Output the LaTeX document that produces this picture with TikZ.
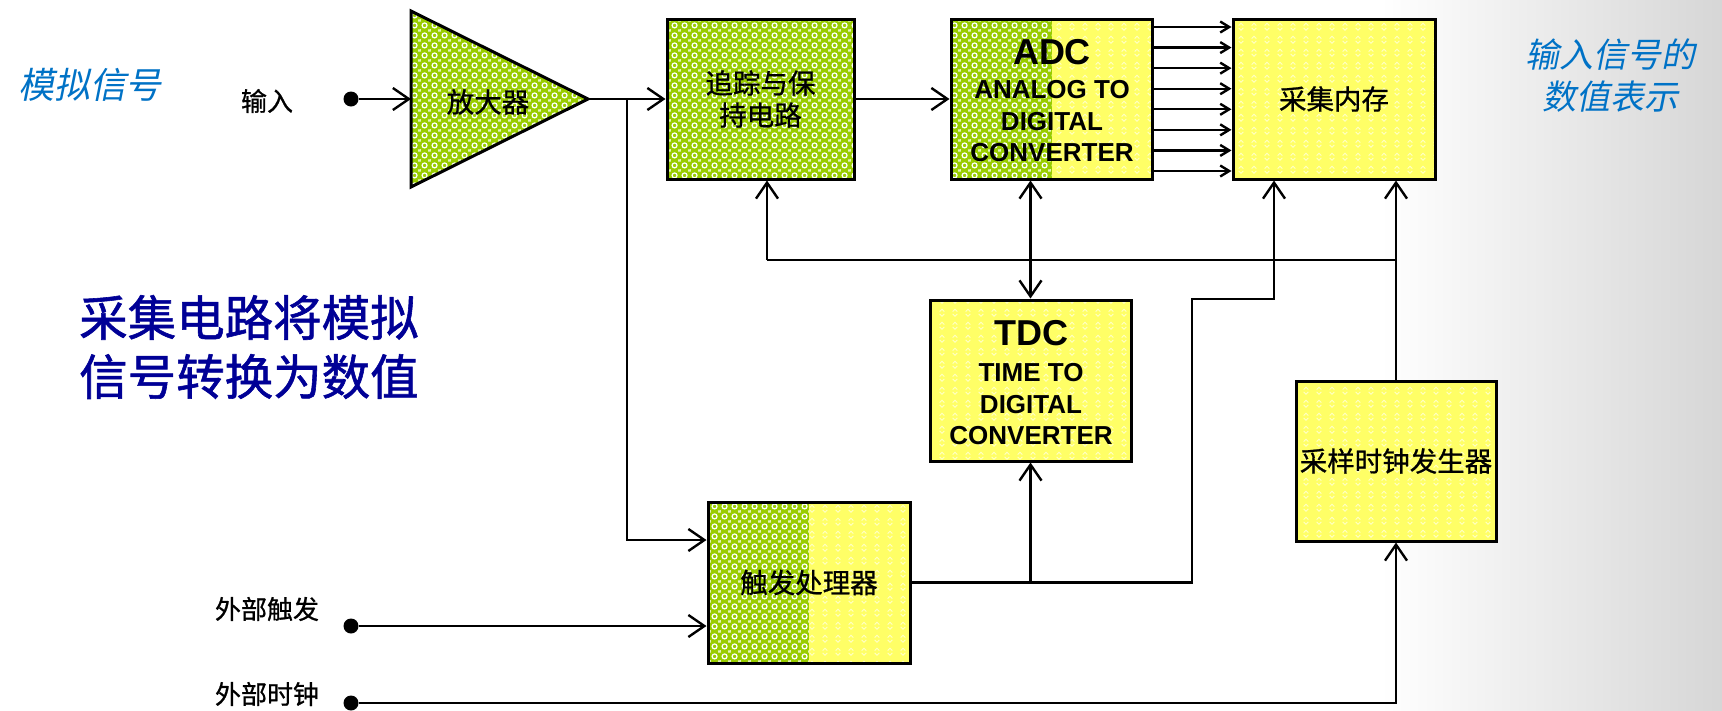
\documentclass[tikz,border=0pt]{standalone}
\usepackage{fontspec}
\setmainfont{Liberation Sans}
\newfontfamily\cjk{Noto Sans CJK SC}[FakeBold=0.8]
\newfontfamily\cjkheavy{Noto Sans CJK SC}[FakeBold=1.2]
\newfontfamily\cjkit{Noto Sans CJK SC}[FakeSlant=0.2]
\usetikzlibrary{arrows.meta, patterns.meta, calc}

\definecolor{grn}{RGB}{153,204,0}
\definecolor{yel}{RGB}{255,255,102}
\definecolor{ylt}{RGB}{255,255,200}
\definecolor{skyblue}{RGB}{0,114,198}
\definecolor{navy}{RGB}{0,0,150}

% white ring texture laid over the green fill
\tikzdeclarepattern{
  name=ringsW,
  type=colored,
  bounding box={(0pt,0pt) and (10pt,10pt)},
  tile size={(10pt,10pt)},
  code={
    \draw[white, line width=1.3pt] (5pt,5pt) circle[radius=2.7pt];
    \fill[white] (0pt,0pt) circle[radius=1.2pt];
    \fill[white] (10pt,0pt) circle[radius=1.2pt];
    \fill[white] (0pt,10pt) circle[radius=1.2pt];
    \fill[white] (10pt,10pt) circle[radius=1.2pt];
  }
}
% faint light marks laid over the yellow fill
\tikzdeclarepattern{
  name=marksY,
  type=colored,
  bounding box={(0pt,0pt) and (13pt,13pt)},
  tile size={(13pt,13pt)},
  code={
    \draw[ylt, line width=1pt] (4pt,6.5pt) -- (6.5pt,4pt) -- (9pt,6.5pt);
    \draw[ylt, line width=1pt] (4pt,9pt) -- (6.5pt,11.5pt) -- (9pt,9pt);
  }
}

\begin{document}
\begin{tikzpicture}[x=1pt, y=-1pt,
  wire/.style={line width=2.4pt},
  arr/.style={wire, -{Straight Barb[length=16pt,width=22pt]}},
  barr/.style={wire, {Straight Barb[length=16pt,width=22pt]}-{Straight Barb[length=16pt,width=22pt]}},
  sarr/.style={wire, -{Straight Barb[length=9pt,width=11pt]}},
  blk/.style={draw, line width=3pt, rectangle, inner sep=0pt, align=center},
  gblk/.style={blk, preaction={fill=grn}, pattern=ringsW},
  yblk/.style={blk, preaction={fill=yel}, pattern=marksY},
  hblk/.style={yblk, path picture={
      \fill[grn] (path picture bounding box.south west) rectangle (path picture bounding box.north);
      \fill[pattern=ringsW] (path picture bounding box.south west) rectangle (path picture bounding box.north);}},
  terminal/.style={circle, fill=black, inner sep=0pt, minimum size=15pt},
  cn/.style={font=\cjk\fontsize{27.5}{32}\selectfont, inner sep=0pt},
  lbl/.style={font=\cjk\fontsize{26}{31}\selectfont, inner sep=0pt},
  en/.style={font=\bfseries\fontsize{26}{31.5}\selectfont, align=center, inner sep=0pt},
  enbig/.style={font=\bfseries\fontsize{36}{40}\selectfont, inner sep=0pt},
]
\useasboundingbox (0,0) rectangle (1722,710);
\fill[white] (0,0) rectangle (1722,710);
\shade[left color=white, right color=black!16] (1380,0) rectangle (1722,710);

% side captions
\node[font=\cjkit\fontsize{36}{40}\selectfont, text=skyblue, inner sep=0pt] (capA) at (90,85) {模拟信号};
\node[font=\cjkit\fontsize{34}{42}\selectfont, text=skyblue, align=center, inner sep=0pt] (capB) at (1610,76) {输入信号的\\数值表示};
\node[font=\cjkheavy\fontsize{48.5}{59}\selectfont, text=navy, align=left, anchor=west, inner sep=0pt] (capC) at (79,347) {采集电路将模拟\\信号转换为数值};

% amplifier
\coordinate (ampL) at (411,99);
\coordinate (ampR) at (588,99);
\path[draw, line width=3pt, preaction={fill=grn}, pattern=ringsW] (411,11) -- (ampR) -- (411,187) -- cycle;
\node[cn] (amp) at (488,102) {放大器};

% blocks
\node[gblk, cn, minimum width=187pt, minimum height=160pt] (th) at (760.5,99) {追踪与保\\持电路};
\node[hblk, minimum width=201pt, minimum height=160pt] (adc) at (1051.5,99) {};
\node[yblk, cn, minimum width=202pt, minimum height=160pt] (mem) at (1334,99) {采集内存};
\node[yblk, minimum width=201pt, minimum height=161pt] (tdc) at (1030.5,380.5) {};
\node[yblk, cn, minimum width=200pt, minimum height=160pt] (clk) at (1396,461) {采样时钟发生器};
\node[hblk, cn, minimum width=202pt, minimum height=161pt] (trg) at (809,582.5) {触发处理器};

\node[enbig] (adcT) at (1052,52) {ADC};
\node[en] (adcS) at (1052,121.5) {ANALOG TO\\DIGITAL\\CONVERTER};
\node[enbig] (tdcT) at (1031,333) {TDC};
\node[en] (tdcS) at (1031,404.5) {TIME TO\\DIGITAL\\CONVERTER};

% terminals and their labels
\node[terminal] (inDot) at (351,99) {};
\node[terminal] (etDot) at (351,626) {};
\node[terminal] (ecDot) at (351,703) {};
\node[lbl] (inLbl) at (267,101) {输入};
\node[lbl] (etLbl) at (267,609) {外部触发};
\node[lbl] (ecLbl) at (267,694) {外部时钟};

% signal path
\draw[arr] (inDot) -- (ampL);
\draw[arr] (ampR) -- (th.west);
\coordinate (br) at (627,99);
\coordinate (trgIn) at ([yshift=42.5pt]trg.west);
\draw[arr] (br) |- (trgIn);
\draw[arr] (th.east) -- (adc.west);
\foreach \i in {0,...,7}
  \draw[sarr] ([yshift={72pt-\i*20.57pt}]adc.east) -- ([yshift={72pt-\i*20.57pt}]mem.west);

% clock distribution
\coordinate (fbL) at (767,260);
\coordinate (fbR) at (1396,260);
\draw[arr] (clk.north) -- (clk.north |- mem.south);
\draw[wire] (fbR) -- (fbL);
\draw[arr] (fbL) -- (fbL |- th.south);
\draw[barr] (tdc.north) -- (tdc.north |- adc.south);

% trigger distribution
\coordinate (up1) at (1192,299);
\coordinate (memIn) at ([xshift=-60pt]mem.south);
\draw[arr] (trg.east) -| (up1) -| (memIn);
\draw[arr] (tdc.south |- trg.east) -- (tdc.south);

% external inputs
\draw[arr] (etDot) -- (etDot -| trg.west);
\draw[arr] (ecDot) -| (clk.south);
\end{tikzpicture}
\end{document}
